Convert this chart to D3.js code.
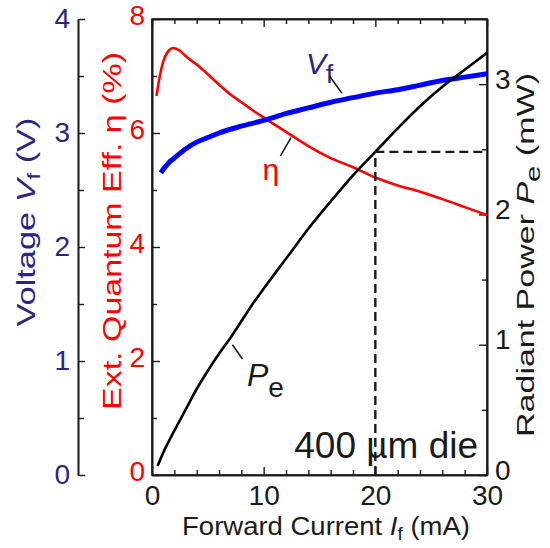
<!DOCTYPE html>
<html><head><meta charset="utf-8">
<script src="https://cdn.jsdelivr.net/npm/d3@7"></script>
<style>
body{margin:0;background:#fff}
svg{display:block}
text{font-family:"Liberation Sans",Arial,sans-serif}
</style>
</head><body>
<svg id="c" width="550" height="548"></svg>
<script>
// ---- data ----
const etaCurrent = [0.4, 0.7, 1.0, 1.4, 1.9, 2.5, 3, 4, 5, 6, 7, 8, 9, 10, 12, 14, 16, 18, 20, 22, 24, 26, 28, 30];
const etaValues  = [6.65, 7.0, 7.25, 7.42, 7.49, 7.44, 7.35, 7.2, 7.03, 6.85, 6.68, 6.54, 6.40, 6.27, 6.02, 5.77, 5.56, 5.40, 5.22, 5.08, 4.97, 4.84, 4.70, 4.56];
const vfCurrent  = [0.8, 1, 1.5, 2, 3, 4, 5, 6, 8, 10, 12, 14, 16, 18, 20, 22, 24, 26, 28, 30];
const vfValues   = [2.65, 2.68, 2.74, 2.78, 2.86, 2.92, 2.96, 3.0, 3.06, 3.11, 3.17, 3.22, 3.27, 3.31, 3.35, 3.38, 3.42, 3.46, 3.49, 3.52];
const peCurrent  = [0.5, 1, 2, 3, 4, 5, 6, 7, 8, 9, 10, 12, 14, 16, 18, 20, 22, 24, 26, 28, 30];
const peValues   = [0.07, 0.17, 0.34, 0.50, 0.66, 0.80, 0.93, 1.05, 1.18, 1.31, 1.43, 1.66, 1.89, 2.10, 2.30, 2.48, 2.66, 2.83, 2.98, 3.11, 3.24];
const xTicks     = [0, 10, 20, 30];
const xMinor     = [2, 4, 6, 8, 12, 14, 16, 18, 22, 24, 26, 28];
const etaTicks   = [0, 2, 4, 6, 8];
const etaMinor   = [1, 3, 5, 7];
const vTicks     = [0, 1, 2, 3, 4];
const vMinor     = [0.5, 1.5, 2.5, 3.5];
const pTicks     = [0, 1, 2, 3];
const pMinor     = [0.5, 1.5, 2.5, 3.5];
const refCurrent = 20;
const refPower   = 2.48;
const dieLabel   = "400 \u00b5m die";

// ---- layout ----
const NAVY = "#2d2382", RED = "#ff0000", BLUE = "#0000ff", INK = "#1a1a1a";
const L = 152, R = 487, T = 19, B = 475, VX = 78;
const svg = d3.select("#c");
const x    = d3.scaleLinear().domain([0, 30]).range([L, R]);
const yEta = d3.scaleLinear().domain([0, 8]).range([B, T]);
const yV   = d3.scaleLinear().domain([0, 4]).range([B, T]);
const yP   = d3.scaleLinear().domain([0, 3.5]).range([B, T]);

function styleAxis(g, color, fs) {
  g.selectAll("path.domain").attr("stroke", INK).attr("stroke-width", 1.6);
  g.selectAll(".tick line").attr("stroke", INK).attr("stroke-width", 1.4);
  g.selectAll(".tick text").attr("fill", color).attr("font-size", fs)
    .attr("font-family", '"Liberation Sans",Arial,sans-serif');
}

// bottom axis
const gb = svg.append("g").attr("transform", `translate(0,${B})`)
  .call(d3.axisBottom(x).tickValues(xTicks).tickSize(-8).tickSizeOuter(0).tickPadding(10).tickFormat(d3.format("d")));
styleAxis(gb, INK, 28);
const gbm = svg.append("g").attr("transform", `translate(0,${B})`)
  .call(d3.axisBottom(x).tickValues(xMinor).tickSize(-5).tickSizeOuter(0).tickFormat(""));
styleAxis(gbm, INK, 28);
// top axis
const gt = svg.append("g").attr("transform", `translate(0,${T})`)
  .call(d3.axisTop(x).tickValues(xTicks).tickSize(-8).tickSizeOuter(0).tickFormat(""));
styleAxis(gt, INK, 28);
const gtm = svg.append("g").attr("transform", `translate(0,${T})`)
  .call(d3.axisTop(x).tickValues(xMinor).tickSize(-5).tickSizeOuter(0).tickFormat(""));
styleAxis(gtm, INK, 28);
// eta axis (left frame)
const ge = svg.append("g").attr("transform", `translate(${L},0)`)
  .call(d3.axisLeft(yEta).tickValues(etaTicks).tickSize(-8).tickSizeOuter(0).tickPadding(7).tickFormat(d3.format("d")));
styleAxis(ge, RED, 28);
ge.selectAll(".tick text").attr("dy", "0.18em");
const gem = svg.append("g").attr("transform", `translate(${L},0)`)
  .call(d3.axisLeft(yEta).tickValues(etaMinor).tickSize(-5).tickSizeOuter(0).tickFormat(""));
styleAxis(gem, RED, 28);
// right power axis
const gr = svg.append("g").attr("transform", `translate(${R},0)`)
  .call(d3.axisRight(yP).tickValues(pTicks).tickSize(-8).tickSizeOuter(0).tickPadding(8).tickFormat(d3.format("d")));
styleAxis(gr, INK, 28);
gr.selectAll(".tick text").attr("dy", "0.15em");
const grm = svg.append("g").attr("transform", `translate(${R},0)`)
  .call(d3.axisRight(yP).tickValues(pMinor).tickSize(-5).tickSizeOuter(0).tickFormat(""));
styleAxis(grm, INK, 28);
// voltage axis (outer left)
const gv = svg.append("g").attr("transform", `translate(${VX},0)`)
  .call(d3.axisLeft(yV).tickValues(vTicks).tickSize(-7).tickSizeOuter(0).tickPadding(8).tickFormat(d3.format("d")));
styleAxis(gv, NAVY, 28);
const gvm = svg.append("g").attr("transform", `translate(${VX},0)`)
  .call(d3.axisLeft(yV).tickValues(vMinor).tickSize(-6).tickSizeOuter(0).tickFormat(""));
styleAxis(gvm, NAVY, 28);

// frame
svg.append("rect").attr("x", L).attr("y", T).attr("width", R - L).attr("height", B - T)
  .attr("fill", "none").attr("stroke", INK).attr("stroke-width", 1.6);

// curves
const lineEta = d3.line().x((d, i) => x(etaCurrent[i])).y(d => yEta(d)).curve(d3.curveMonotoneX);
const lineVf  = d3.line().x((d, i) => x(vfCurrent[i])).y(d => yV(d)).curve(d3.curveMonotoneX);
const linePe  = d3.line().x((d, i) => x(peCurrent[i])).y(d => yP(d)).curve(d3.curveMonotoneX);
svg.append("path").attr("d", lineEta(etaValues)).attr("fill", "none").attr("stroke", RED).attr("stroke-width", 2.6);
svg.append("path").attr("d", lineVf(vfValues)).attr("fill", "none").attr("stroke", BLUE).attr("stroke-width", 5);
svg.append("path").attr("d", linePe(peValues)).attr("fill", "none").attr("stroke", "#000").attr("stroke-width", 2.6);

// reference dashed lines
svg.append("line").attr("x1", x(refCurrent)).attr("x2", x(refCurrent)).attr("y1", yP(0)).attr("y2", yP(refPower))
  .attr("stroke", INK).attr("stroke-width", 2.4).attr("stroke-dasharray", "9,5");
svg.append("line").attr("x1", x(refCurrent)).attr("x2", x(30)).attr("y1", yP(refPower)).attr("y2", yP(refPower))
  .attr("stroke", INK).attr("stroke-width", 2.4).attr("stroke-dasharray", "9,5");

// curve labels with leaders
function leader(x1, y1, x2, y2) {
  svg.append("line").attr("x1", x1).attr("y1", y1).attr("x2", x2).attr("y2", y2)
    .attr("stroke", INK).attr("stroke-width", 1.6);
}
const vfLab = svg.append("text").attr("x", x(13.8)).attr("y", yV(3.52)).attr("fill", NAVY).attr("font-size", 30);
vfLab.append("tspan").attr("font-style", "italic").text("V");
vfLab.append("tspan").attr("font-size", 26).attr("dy", 9).text("f");
leader(x(15.9), yV(3.50), x(17.0), yV(3.35));

svg.append("text").attr("x", x(9.9)).attr("y", yEta(5.17)).attr("fill", RED).attr("font-size", 30).text("\u03b7");
leader(x(11.5), yEta(5.6), x(12.45), yEta(5.92));

const peLab = svg.append("text").attr("x", x(8.5)).attr("y", yP(0.68)).attr("fill", INK).attr("font-size", 32);
peLab.append("tspan").attr("font-style", "italic").text("P");
peLab.append("tspan").attr("font-size", 28).attr("dy", 11).text("e");
leader(x(7.2), yP(1.0), x(8.1), yP(0.89));

svg.append("text").attr("x", x(29.2)).attr("y", 458).attr("text-anchor", "end")
  .attr("fill", INK).attr("font-size", 37).text(dieLabel);

// axis titles (stretched to the reference's wide lettering)
function stretch(t, target) {
  const w = t.node().getComputedTextLength();
  t.attr("transform", `scale(${target / w},1)`);
}
// x title
const xt = svg.append("g").attr("transform", `translate(326,535)`).append("text")
  .attr("text-anchor", "middle").attr("fill", INK).attr("font-size", 26);
xt.append("tspan").text("Forward Current ");
xt.append("tspan").attr("font-style", "italic").text("I");
xt.append("tspan").attr("font-size", 18).attr("dy", 5).text("f");
xt.append("tspan").attr("dy", -5).text(" (mA)");
stretch(xt, 288);
// voltage title
const vt = svg.append("g").attr("transform", `translate(35,222) rotate(-90)`).append("text")
  .attr("text-anchor", "middle").attr("fill", NAVY).attr("font-size", 26);
vt.append("tspan").text("Voltage ");
vt.append("tspan").attr("font-style", "italic").text("V");
vt.append("tspan").attr("font-size", 18).attr("dy", 5).text("f");
vt.append("tspan").attr("dy", -5).text(" (V)");
stretch(vt, 209);
// eta title
const et = svg.append("g").attr("transform", `translate(121,231) rotate(-90)`).append("text")
  .attr("text-anchor", "middle").attr("fill", RED).attr("font-size", 26);
et.text("Ext. Quantum Eff. \u03b7 (%)");
stretch(et, 358);
// power title
const pt = svg.append("g").attr("transform", `translate(534,255) rotate(-90)`).append("text")
  .attr("text-anchor", "middle").attr("fill", INK).attr("font-size", 23);
pt.append("tspan").text("Radiant Power ");
pt.append("tspan").attr("font-style", "italic").text("P");
pt.append("tspan").attr("font-size", 20).attr("dy", 6).text("e");
pt.append("tspan").attr("dy", -6).text(" (mW)");
stretch(pt, 364);
</script>
</body></html>
